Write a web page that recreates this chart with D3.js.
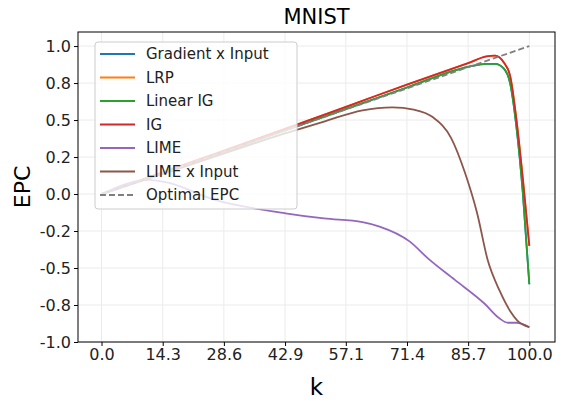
<!DOCTYPE html><html><head><meta charset="utf-8"><script src="https://cdn.jsdelivr.net/npm/d3@7"></script>
<style>body{margin:0;background:#fff}text{font-family:"DejaVu Sans",sans-serif}</style></head><body><svg width="570" height="402"></svg>
<script>
const seriesNames=["Gradient x Input","LRP","Linear IG","IG","LIME","LIME x Input","Optimal EPC"];
const colors=["#1f77b4","#ff7f0e","#2ca02c","#d62728","#9467bd","#8c564b","#7f7f7f"];
const xTicks=[0,14.3,28.6,42.9,57.1,71.4,85.7,100];
const yTicks=[1,0.75,0.5,0.25,0,-0.25,-0.5,-0.75,-1];
const yTickLabels=["1.0","0.8","0.5","0.2","0.0","-0.2","-0.5","-0.8","-1.0"];
const igK=[0,20,42.9,60,71.4,85.7,90,92,94,95.5,97,98.5,100];
const igV=[0,0.205,0.44,0.62,0.74,0.885,0.93,0.935,0.89,0.80,0.5,0.1,-0.35];
const linK=[0,42.9,71.4,85.7,90,92,94,95.5,97,98.5,100];
const linV=[0,0.43,0.72,0.86,0.88,0.88,0.85,0.75,0.45,0.0,-0.61];
const limeK=[0,11,15,26.5,43,52,61,65,72,76.5,82.6,89.5,93,95,97,100];
const limeV=[0,0.095,0.08,-0.04,-0.13,-0.165,-0.19,-0.22,-0.32,-0.44,-0.58,-0.74,-0.84,-0.87,-0.87,-0.9];
const lxK=[0,20,42.9,52,61,68,73,77.4,81.7,85,87.8,90.3,93,95.5,97.2,100];
const lxV=[0,0.19,0.41,0.49,0.566,0.586,0.57,0.52,0.38,0.14,-0.13,-0.45,-0.65,-0.79,-0.855,-0.9];
const optK=[0,100], optV=[0,1];
const data=[[linK,linV],[igK,igV],[linK,linV],[igK,igV],[limeK,limeV],[lxK,lxV],[optK,optV]];

const svg=d3.select("svg");
const L=78,R=555,T=32,B=342;
const x=d3.scaleLinear().domain([-5.5,106]).range([L,R]);
const y=d3.scaleLinear().domain([-1,1.095]).range([B,T]);
const g=svg.append("g");
g.selectAll(".gx").data(xTicks).join("line").attr("x1",d=>x(d)).attr("x2",d=>x(d)).attr("y1",T).attr("y2",B).attr("stroke","#ebebeb");
g.selectAll(".gy").data(yTicks).join("line").attr("y1",d=>y(d)).attr("y2",d=>y(d)).attr("x1",L).attr("x2",R).attr("stroke","#ebebeb");
const line=d3.line().x(d=>x(d[0])).y(d=>y(d[1])).curve(d3.curveMonotoneX);
data.forEach((s,i)=>{
  const pts=s[0].map((k,j)=>[k,s[1][j]]);
  svg.append("path").attr("d",line(pts)).attr("fill","none").attr("stroke",colors[i]).attr("stroke-width",1.8)
   .attr("stroke-dasharray",i==6?"6,3":null);
});
svg.append("rect").attr("x",L).attr("y",T).attr("width",R-L).attr("height",B-T).attr("fill","none").attr("stroke","#000").attr("stroke-width",1);
const xa=svg.append("g").attr("transform",`translate(0,${B})`).call(d3.axisBottom(x).tickValues(xTicks).tickFormat(d3.format(".1f")).tickSizeOuter(0).tickSize(4));
const ya=svg.append("g").attr("transform",`translate(${L},0)`).call(d3.axisLeft(y).tickValues(yTicks).tickFormat((d,i)=>yTickLabels[i]).tickSizeOuter(0).tickSize(4));
[xa,ya].forEach(a=>{a.select(".domain").remove();a.selectAll("text").attr("font-size",16).attr("fill","#222");});
ya.selectAll("text").attr("dy","0.35em");
svg.append("text").attr("x",(L+R)/2).attr("y",24).attr("text-anchor","middle").attr("font-size",21).text("MNIST");
svg.append("text").attr("x",(L+R)/2).attr("y",395).attr("text-anchor","middle").attr("font-size",23).text("k");
svg.append("text").attr("transform",`translate(30,${(T+B)/2}) rotate(-90)`).attr("text-anchor","middle").attr("font-size",22).text("EPC");
const lg=svg.append("g").attr("transform","translate(95,42)");
lg.append("rect").attr("width",202).attr("height",167).attr("rx",3).attr("fill","#fff").attr("fill-opacity",0.8).attr("stroke","#ccc");
seriesNames.forEach((n,i)=>{
  const yy=12+i*23.5;
  lg.append("line").attr("x1",5).attr("x2",40).attr("y1",yy).attr("y2",yy).attr("stroke",colors[i]).attr("stroke-width",1.8).attr("stroke-dasharray",i==6?"6,3":null);
  lg.append("text").attr("x",51).attr("y",yy).attr("dy","0.35em").attr("font-size",15).attr("fill","#222").text(n);
});
</script></body></html>
